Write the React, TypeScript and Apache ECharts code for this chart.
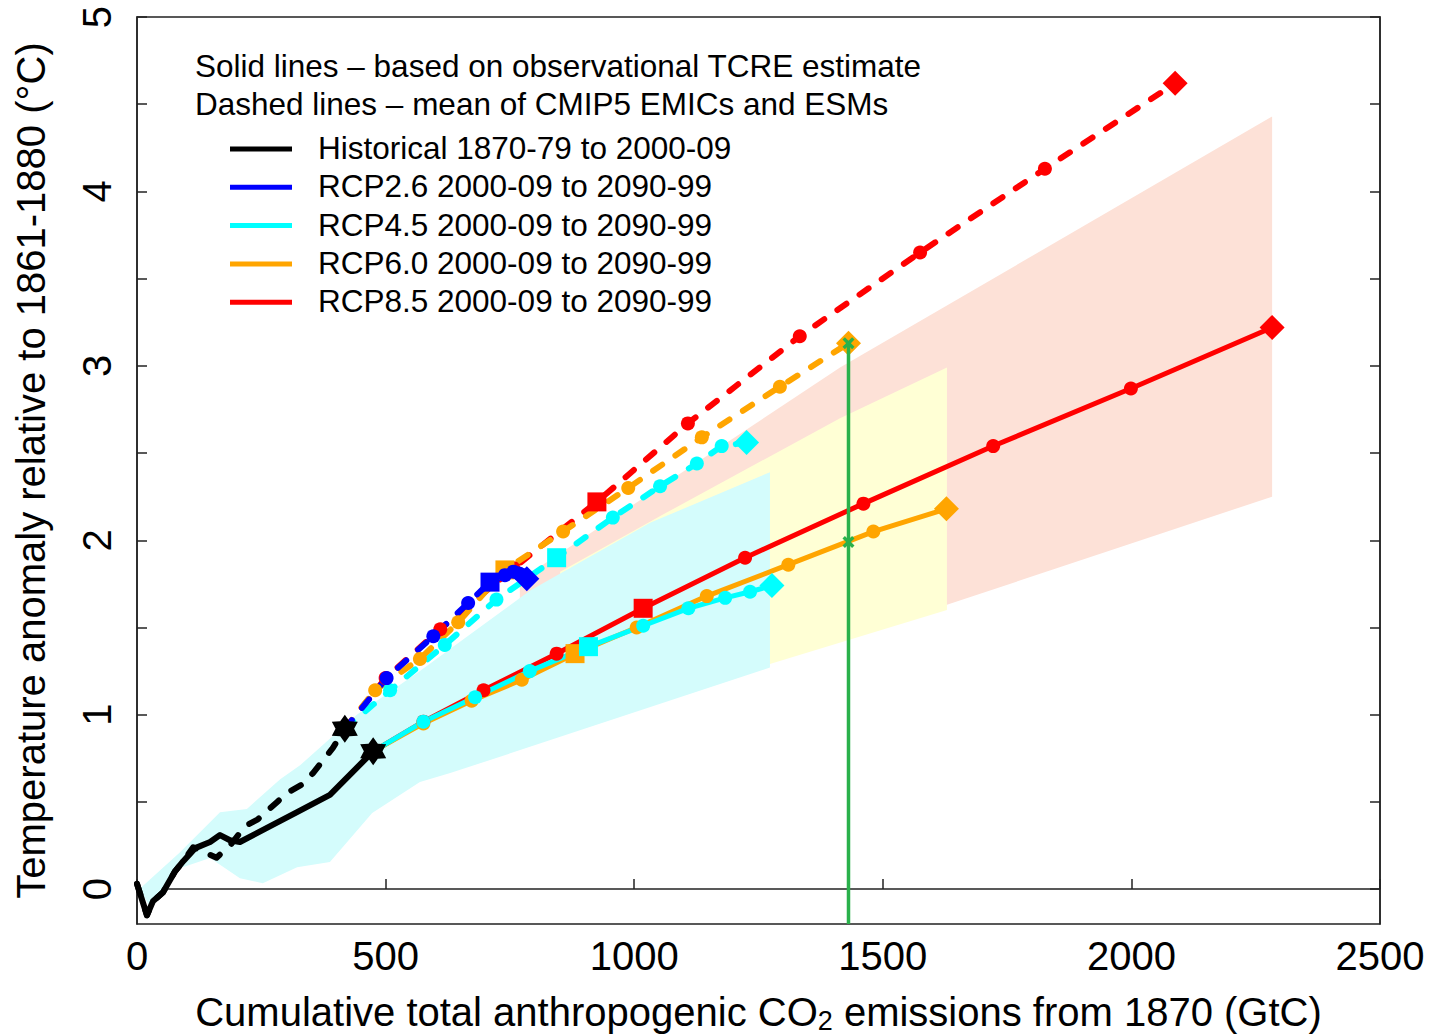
import React, { useEffect, useRef } from "react";
import * as echarts from "echarts";

const FONT = "'Liberation Sans', Arial, Helvetica, sans-serif";

// ---- Historical (1870-79 to 2000-09) ----
const histSolidX = [0, 20, 32, 52, 76, 93, 117, 147, 167, 187, 207, 267, 321, 388, 475];
const histSolidY = [0.03, -0.15, -0.07, -0.02, 0.1, 0.16, 0.235, 0.27, 0.31, 0.28, 0.27, 0.36, 0.44, 0.54, 0.79];
const histDashX = [0, 20, 32, 52, 76, 93, 113, 160, 190, 217, 243, 282, 301, 332, 354, 394, 418];
const histDashY = [0.03, -0.15, -0.07, -0.02, 0.1, 0.16, 0.24, 0.18, 0.26, 0.36, 0.4, 0.5, 0.55, 0.6, 0.665, 0.81, 0.92];

// decade markers 2010s ... 2090s
const decadeSymbols = ["circle", "circle", "circle", "rect", "circle", "circle", "circle", "circle", "diamond"];

// ---- Solid lines: based on observational TCRE estimate ----
const rcp45SolidX = [576, 680, 790, 908, 1018, 1109, 1183, 1233, 1277];
const rcp45SolidY = [0.96, 1.1, 1.25, 1.39, 1.51, 1.61, 1.67, 1.705, 1.74];
const rcp60SolidX = [576, 673, 774, 881, 1005, 1146, 1310, 1481, 1628];
const rcp60SolidY = [0.95, 1.08, 1.2, 1.35, 1.5, 1.68, 1.86, 2.05, 2.18];
const rcp85SolidX = [576, 697, 844, 1018, 1223, 1461, 1722, 1999, 2283];
const rcp85SolidY = [0.96, 1.14, 1.35, 1.61, 1.9, 2.21, 2.54, 2.87, 3.22];

// ---- Dashed lines: mean of CMIP5 EMICs and ESMs ----
const rcp26DashX = [502, 596, 666, 710, 740, 757, 768, 776, 784];
const rcp26DashY = [1.21, 1.45, 1.64, 1.76, 1.8, 1.82, 1.81, 1.8, 1.78];
const rcp45DashX = [509, 619, 723, 844, 957, 1052, 1126, 1176, 1226];
const rcp45DashY = [1.14, 1.4, 1.66, 1.9, 2.13, 2.31, 2.44, 2.54, 2.56];
const rcp60DashX = [479, 569, 646, 740, 857, 988, 1136, 1293, 1431];
const rcp60DashY = [1.14, 1.32, 1.53, 1.83, 2.05, 2.3, 2.59, 2.88, 3.13];
const rcp85DashX = [500, 610, 757, 925, 1108, 1333, 1575, 1826, 2088];
const rcp85DashY = [1.21, 1.49, 1.84, 2.22, 2.67, 3.17, 3.65, 4.13, 4.62];

// ---- Shaded ranges ----
const cyanBandX = [5, 86, 167, 221, 288, 328, 442, 569, 790, 1032, 1273, 1273, 630, 569, 473, 388, 322, 253, 207, 147, 86, 26];
const cyanBandY = [0.0, 0.21, 0.44, 0.46, 0.63, 0.71, 1.0, 1.25, 1.71, 2.1, 2.39, 1.27, 0.665, 0.614, 0.436, 0.155, 0.126, 0.034, 0.063, 0.178, 0.12, -0.1];
const yellowBandX = [851, 1066, 1414, 1629, 1629, 1273, 851];
const yellowBandY = [1.82, 2.16, 2.7, 2.99, 1.6, 1.29, 1.08];
const salmonBandX = [770, 811, 1414, 2283, 2283, 1629, 770];
const salmonBandY = [1.76, 1.85, 2.99, 4.43, 2.25, 1.63, 0.85];

// ---- Green marker line ----
const greenX = 1431;
const greenLineY = [3.13, -0.2];
const greenMarkY = [3.13, 1.99];

// ---- Axis ticks ----
const xTicks = [0, 500, 1000, 1500, 2000, 2500];
const yTickValues = [0, 0.5, 1, 1.5, 2, 2.5, 3, 3.5, 4, 4.5, 5];
const yLabelValues = [0, 1, 2, 3, 4, 5];

// ---- Legend ----
const legendHeader = [
  "Solid lines \u2013 based on observational TCRE estimate",
  "Dashed lines \u2013 mean of CMIP5 EMICs and ESMs",
];
const legendLabels = [
  "Historical 1870-79 to 2000-09",
  "RCP2.6 2000-09 to 2090-99",
  "RCP4.5 2000-09 to 2090-99",
  "RCP6.0 2000-09 to 2090-99",
  "RCP8.5 2000-09 to 2090-99",
];
const legendColors = ["#000000", "#0000ff", "#00ffff", "#ffa500", "#ff0000"];

function starPath(): string {
  const pts: string[] = [];
  for (let i = 0; i < 12; i++) {
    const a = -Math.PI / 2 + (i * Math.PI) / 6;
    const r = i % 2 === 0 ? 10 : 6.2;
    pts.push((10 + r * Math.cos(a)).toFixed(2) + "," + (10 + r * Math.sin(a)).toFixed(2));
  }
  return "path://M" + pts.join("L") + "Z";
}
const STAR = starPath();
const XMARK = "path://M2,0L5,3L8,0L10,2L7,5L10,8L8,10L5,7L2,10L0,8L3,5L0,2Z";

function symSize(s: string): number {
  if (s === "rect") return 19;
  if (s === "diamond") return 25;
  return 14;
}

function projSeries(color: string, dashed: boolean, sx: number, sy: number, xs: number[], ys: number[]) {
  const data: any[] = [{ value: [sx, sy], symbol: "none" }];
  xs.forEach((x, i) => {
    const s = decadeSymbols[i];
    data.push({ value: [x, ys[i]], symbol: s, symbolSize: symSize(s) });
  });
  return {
    type: "line",
    silent: true,
    data,
    symbol: "circle",
    symbolSize: 14,
    showSymbol: true,
    itemStyle: { color, opacity: 1 },
    lineStyle: { color, width: dashed ? 6 : 5, type: dashed ? [11, 16] : "solid", cap: "round", join: "round" },
  };
}

function bandSeries(xs: number[], ys: number[], fill: string) {
  return {
    type: "custom",
    silent: true,
    data: xs.map((x, i) => [x, ys[i]]),
    encode: { x: 0, y: 1 },
    renderItem: (params: any, api: any) => {
      if (params.dataIndex !== 0) return null;
      const pts = xs.map((x, i) => api.coord([x, ys[i]]));
      return { type: "polygon", shape: { points: pts }, style: { fill, stroke: null } };
    },
  };
}

export default function App() {
  const ref = useRef<HTMLDivElement>(null);
  useEffect(() => {
    document.body.style.margin = "0";
    if (!ref.current) return;
    const chart = echarts.init(ref.current, null, { renderer: "svg" });

    const graphic: any[] = [];
    legendHeader.forEach((t, i) => {
      graphic.push({
        type: "text",
        left: 195,
        top: 67 + i * 38 - 17,
        style: { text: t, fontSize: 31.5, fontFamily: FONT, fill: "#000" },
      });
    });
    legendLabels.forEach((t, i) => {
      const yc = 149 + i * 38.3;
      graphic.push({
        type: "line",
        shape: { x1: 230, y1: yc, x2: 292, y2: yc },
        style: { stroke: legendColors[i], lineWidth: 5 },
      });
      graphic.push({
        type: "text",
        left: 318,
        top: yc - 17,
        style: { text: t, fontSize: 31.5, fontFamily: FONT, fill: "#000" },
      });
    });

    const option: any = {
      animation: false,
      backgroundColor: "#ffffff",
      grid: {
        left: 137,
        top: 17,
        right: 59,
        bottom: 110,
        show: true,
        borderColor: "#222",
        borderWidth: 1.5,
        backgroundColor: "transparent",
        outerBoundsMode: "none",
      },
      xAxis: {
        type: "value",
        min: xTicks[0],
        max: xTicks[xTicks.length - 1],
        interval: 500,
        axisLine: { show: true, lineStyle: { color: "#222", width: 1.5 } },
        axisTick: { show: true, inside: true, length: 10, lineStyle: { color: "#222", width: 1.5 } },
        axisLabel: { fontSize: 40, color: "#000", fontFamily: FONT, margin: 12, formatter: (v: number) => String(v) },
        splitLine: { show: false },
        name: "Cumulative total anthropogenic CO{sub|2} emissions from 1870 (GtC)",
        nameLocation: "middle",
        nameGap: 66,
        nameTextStyle: {
          fontSize: 40,
          color: "#000",
          fontFamily: FONT,
          lineHeight: 44,
          rich: {
            sub: { fontSize: 27, fontFamily: FONT, color: "#000", verticalAlign: "bottom", lineHeight: 18 },
          },
        },
      },
      yAxis: [
        {
          type: "value",
          min: -0.2,
          max: 5,
          position: "left",
          axisLine: { show: true, lineStyle: { color: "#222", width: 1.5 } },
          axisTick: { show: true, inside: true, length: 10, customValues: yTickValues, lineStyle: { color: "#222", width: 1.5 } },
          axisLabel: { fontSize: 40, color: "#000", fontFamily: FONT, rotate: 90, margin: 20, customValues: yLabelValues },
          splitLine: { show: false },
          name: "Temperature anomaly relative to 1861-1880 (\u00b0C)",
          nameLocation: "middle",
          nameGap: 86,
          nameTextStyle: { fontSize: 40, color: "#000", fontFamily: FONT },
        },
        {
          type: "value",
          min: -0.2,
          max: 5,
          position: "right",
          axisLine: { show: true, lineStyle: { color: "#222", width: 1.5 } },
          axisTick: { show: true, inside: true, length: 10, customValues: yTickValues, lineStyle: { color: "#222", width: 1.5 } },
          axisLabel: { show: false },
          splitLine: { show: false },
        },
      ],
      graphic,
      series: [
        bandSeries(salmonBandX, salmonBandY, "#fde1d7"),
        bandSeries(yellowBandX, yellowBandY, "#ffffd5"),
        bandSeries(cyanBandX, cyanBandY, "#d4fcfc"),
        projSeries("#ff0000", true, 418, 0.92, rcp85DashX, rcp85DashY),
        projSeries("#ff0000", false, 475, 0.79, rcp85SolidX, rcp85SolidY),
        projSeries("#ffa500", true, 418, 0.92, rcp60DashX, rcp60DashY),
        projSeries("#ffa500", false, 475, 0.79, rcp60SolidX, rcp60SolidY),
        projSeries("#00ffff", true, 418, 0.92, rcp45DashX, rcp45DashY),
        projSeries("#00ffff", false, 475, 0.79, rcp45SolidX, rcp45SolidY),
        projSeries("#0000ff", true, 418, 0.92, rcp26DashX, rcp26DashY),
        {
          type: "line",
          silent: true,
          data: histDashX.map((x, i) => [x, histDashY[i]]),
          showSymbol: false,
          symbol: "none",
          lineStyle: { color: "#000", width: 6, type: [11, 16], cap: "round", join: "round" },
        },
        {
          type: "line",
          silent: true,
          data: histSolidX.map((x, i) => [x, histSolidY[i]]),
          showSymbol: false,
          symbol: "none",
          lineStyle: { color: "#000", width: 6, cap: "round", join: "round" },
        },
        {
          type: "scatter",
          silent: true,
          z: 5,
          data: [
            [histDashX[histDashX.length - 1], histDashY[histDashY.length - 1]],
            [histSolidX[histSolidX.length - 1], histSolidY[histSolidY.length - 1]],
          ],
          symbol: STAR,
          symbolSize: [26, 28],
          itemStyle: { color: "#000", opacity: 1 },
        },
        {
          type: "line",
          silent: true,
          z: 5,
          data: greenLineY.map((y) => [greenX, y]),
          showSymbol: false,
          symbol: "none",
          lineStyle: { color: "#2ab14b", width: 3.5 },
        },
        {
          type: "scatter",
          silent: true,
          z: 6,
          data: greenMarkY.map((y) => [greenX, y]),
          symbol: XMARK,
          symbolSize: 12,
          itemStyle: { color: "#2ab14b", opacity: 1 },
        },
      ],
    };
    chart.setOption(option);
    return () => chart.dispose();
  }, []);
  return <div ref={ref} style={{ width: 1439, height: 1034 }} />;
}
